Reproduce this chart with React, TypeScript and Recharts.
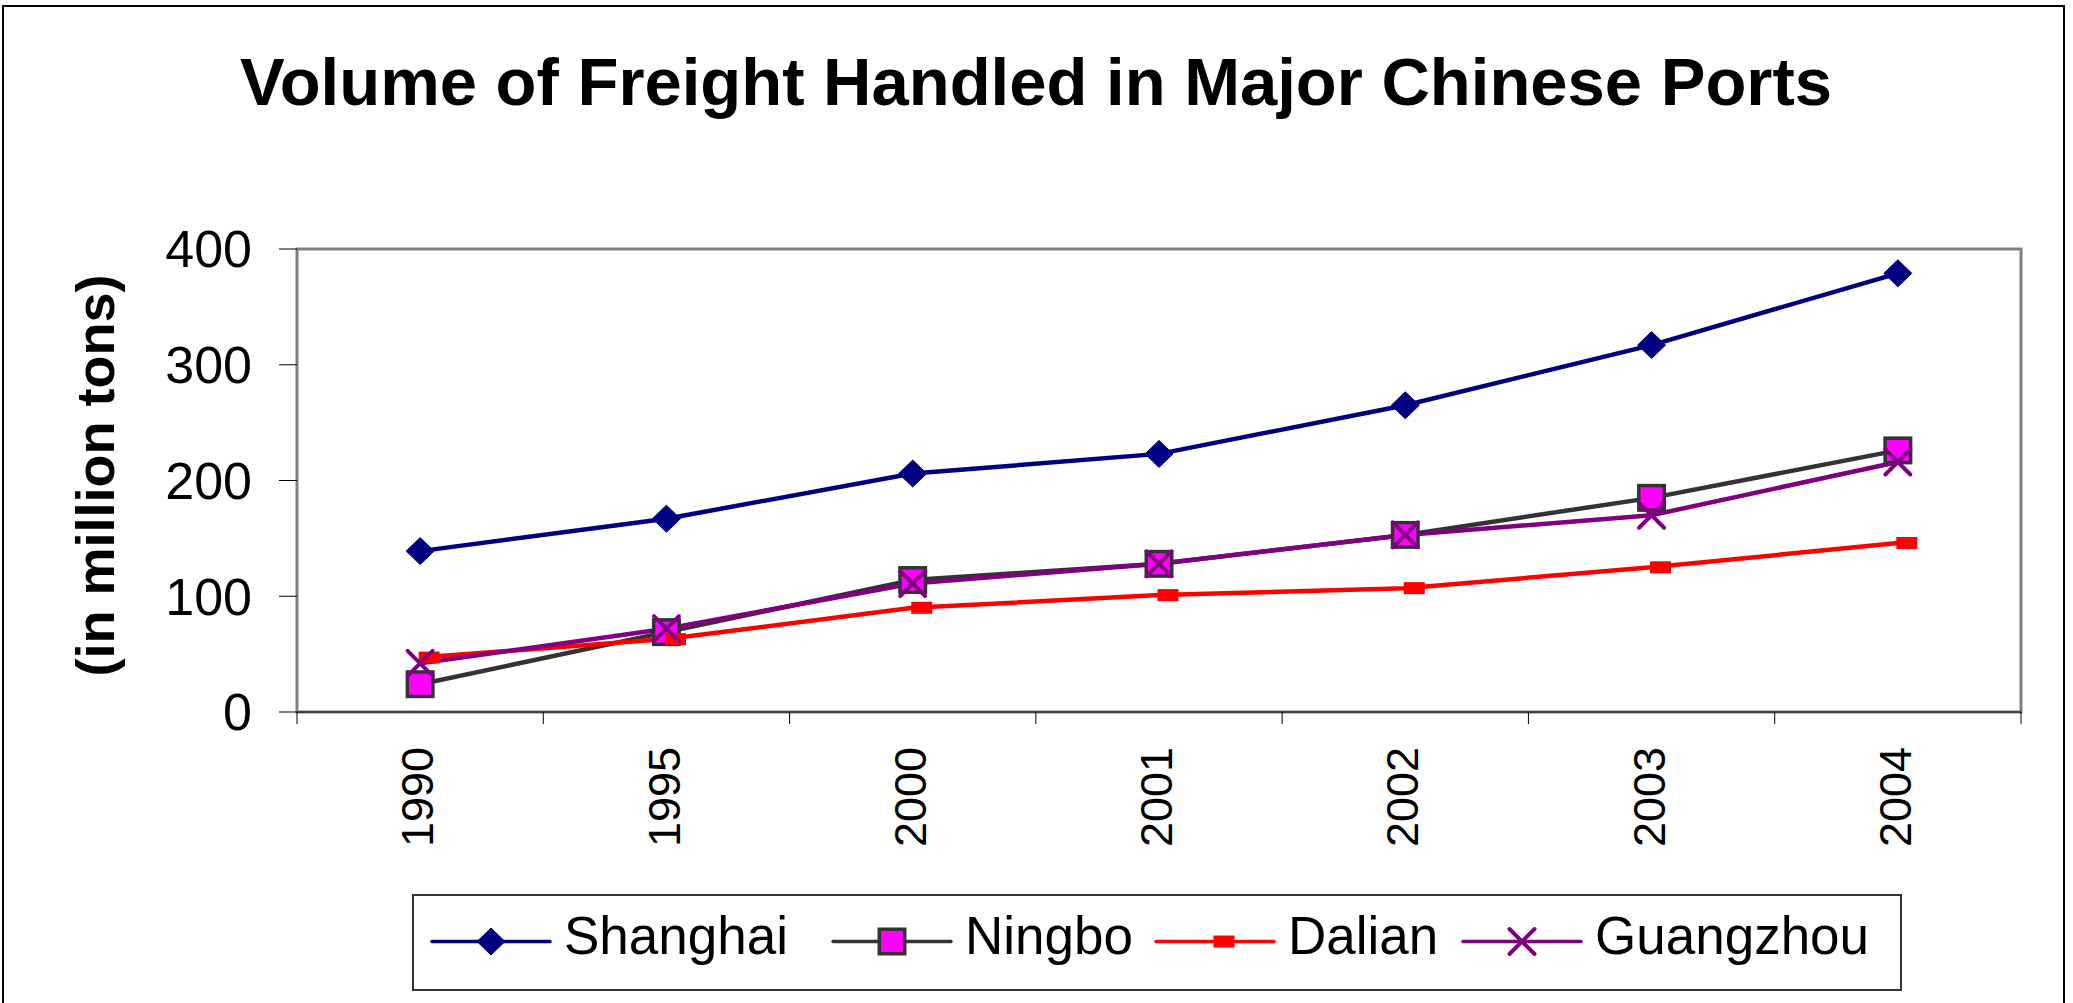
import React from 'react';
import { LineChart, Line, XAxis, YAxis, ReferenceArea, Legend } from 'recharts';

const years = ['1990', '1995', '2000', '2001', '2002', '2003', '2004'];
const shanghai = [139, 167, 206, 223, 265, 317, 379];
const ningbo = [24, 69, 114, 128, 153, 185, 226];
const dalian = [47, 63, 90, 101, 107, 125, 146];
const guangzhou = [42, 72, 111, 128, 153, 170, 216];
const yTicks = [0, 100, 200, 300, 400];
const seriesNames = ['Shanghai', 'Ningbo', 'Dalian', 'Guangzhou'];

// category slots: each year occupies one unit-wide band, its point in the middle
const data = years.map((year, i) => ({
  slot: i + 0.5,
  year,
  Shanghai: shanghai[i],
  Ningbo: ningbo[i],
  Dalian: dalian[i],
  Guangzhou: guangzhou[i],
}));

// ticks: band boundaries (tick marks) and band centres (labels)
const xTicks: number[] = [];
for (let i = 0; i <= years.length; i++) {
  xTicks.push(i);
  if (i < years.length) xTicks.push(i + 0.5);
}

const FONT = '"Liberation Sans", Arial, Helvetica, sans-serif';

const COLORS: Record<string, string> = {
  Shanghai: '#000080',
  Ningbo: '#333333',
  Dalian: '#FF0000',
  Guangzhou: '#800080',
};

function Diamond({ cx, cy }: { cx: number; cy: number }) {
  const rx = 14;
  const ry = 13.5;
  return (
    <path
      d={`M${cx},${cy - ry}L${cx + rx},${cy}L${cx},${cy + ry}L${cx - rx},${cy}Z`}
      fill="#000080"
      stroke="#000080"
      strokeWidth={1}
      strokeLinejoin="round"
    />
  );
}

function NSquare({ cx, cy }: { cx: number; cy: number }) {
  return (
    <rect x={cx - 12.75} y={cy - 12.25} width={25.5} height={24.5} fill="#FF00FF" stroke="#333333" strokeWidth={3.5} />
  );
}

function DRect({ cx, cy }: { cx: number; cy: number }) {
  return <rect x={cx + 9 - 10.5} y={cy - 6} width={21} height={12} fill="#FF0000" />;
}

function XMark({ cx, cy }: { cx: number; cy: number }) {
  const r = 12.5;
  return (
    <path
      d={`M${cx - r},${cy - r}L${cx + r},${cy + r}M${cx - r},${cy + r}L${cx + r},${cy - r}`}
      stroke="#800080"
      strokeWidth={4}
      strokeLinecap="round"
      fill="none"
    />
  );
}

const MARKERS: Record<string, (p: { cx: number; cy: number }) => React.ReactElement> = {
  Shanghai: Diamond,
  Ningbo: NSquare,
  Dalian: DRect,
  Guangzhou: XMark,
};

const makeDot = (name: string) => (p: any) => {
  const M = MARKERS[name];
  if (p.cx == null || p.cy == null) return <g key={`${name}-${p.index}`} />;
  return (
    <g key={`${name}-${p.index}`}>
      <M cx={p.cx} cy={p.cy} />
    </g>
  );
};

const XTick = (props: any) => {
  const { x, y, payload } = props;
  const v = payload.value as number;
  if (Number.isInteger(v)) {
    return <line x1={x} y1={y} x2={x} y2={y + 12} stroke="#000" strokeWidth={1} />;
  }
  const label = years[Math.floor(v)];
  const tx = x - 3;
  const ty = y + 35;
  return (
    <text
      x={tx}
      y={ty}
      transform={`rotate(-90, ${tx}, ${ty})`}
      textAnchor="end"
      dy="0.36em"
      fontSize={45}
      fontFamily={FONT}
      fill="#000"
    >
      {label}
    </text>
  );
};

const YLabel = (props: any) => {
  const vb = props.viewBox || {};
  const cx = vb.x - 122;
  const cy = vb.y + vb.height / 2 - 5;
  return (
    <text
      x={cx}
      y={cy}
      transform={`rotate(-90, ${cx}, ${cy})`}
      textAnchor="middle"
      dy="0.36em"
      fontSize={54}
      fontWeight="bold"
      fontFamily={FONT}
      fill="#000"
    >
      (in million tons)
    </text>
  );
};

const LEGEND_W = 1490;
const LEGEND_H = 97;
const legendStarts = [20, 421, 744, 1051];

const LegendBox = () => (
  <svg width={LEGEND_W} height={LEGEND_H} style={{ display: 'block' }}>
    <rect x={1} y={1} width={LEGEND_W - 2} height={LEGEND_H - 2} fill="#fff" stroke="#333" strokeWidth={2} />
    {seriesNames.map((name, i) => {
      const sx = legendStarts[i];
      const ly = 47.5;
      const M = MARKERS[name];
      return (
        <g key={name}>
          <line x1={sx} y1={ly} x2={sx + 118} y2={ly} stroke={COLORS[name]} strokeWidth={3.5} strokeLinecap="round" />
          <M cx={sx + 59} cy={ly} />
          <text x={sx + 132} y={60} fontSize={53} fontFamily={FONT} fill="#000">
            {name}
          </text>
        </g>
      );
    })}
  </svg>
);

export default function App() {
  return (
    <div style={{ position: 'absolute', left: 0, top: 0, width: 2073, height: 1003, background: '#fff', overflow: 'hidden' }}>
      <LineChart
        width={2073}
        height={1003}
        data={data}
        margin={{ top: 249, right: 52, bottom: 91, left: 217 }}
        style={{ fontFamily: FONT }}
      >
        <XAxis
          dataKey="slot"
          type="number"
          domain={[0, years.length]}
          ticks={xTicks}
          interval={0}
          allowDataOverflow
          height={200}
          tickSize={0}
          tickMargin={0}
          tickLine={false}
          axisLine={{ stroke: '#000', strokeWidth: 1 }}
          tick={<XTick />}
        />
        <YAxis
          width={80}
          domain={[0, 400]}
          ticks={yTicks}
          interval={0}
          tickSize={18}
          tickMargin={27}
          tickLine={{ stroke: '#000', strokeWidth: 1 }}
          axisLine={false}
          tick={{ fontSize: 52, fill: '#000', fontFamily: FONT }}
          label={<YLabel />}
        />
        <ReferenceArea
          x1={0}
          x2={years.length}
          y1={0}
          y2={400}
          fill="none"
          fillOpacity={0}
          stroke="#808080"
          strokeWidth={3}
          ifOverflow="visible"
        />
        {seriesNames.map((name) => (
          <Line
            key={name}
            dataKey={name}
            name={name}
            type="linear"
            stroke={COLORS[name]}
            strokeWidth={4.5}
            dot={makeDot(name)}
            activeDot={false}
            isAnimationActive={false}
          />
        ))}
        <Legend
          layout="horizontal"
          verticalAlign="middle"
          align="center"
          content={<LegendBox />}
          wrapperStyle={{ position: 'absolute', left: 412, top: 894, width: LEGEND_W, height: LEGEND_H, margin: 0, padding: 0 }}
        />
      </LineChart>
      <svg
        width={2073}
        height={1003}
        style={{ position: 'absolute', left: 0, top: 0, pointerEvents: 'none' }}
      >
        <path d="M3,1003 L3,6 L2064,6 L2064,1003" fill="none" stroke="#000" strokeWidth={2} />
        <text x={1036} y={105} textAnchor="middle" fontSize={67} fontWeight="bold" fontFamily={FONT} fill="#000">
          Volume of Freight Handled in Major Chinese Ports
        </text>
      </svg>
    </div>
  );
}
